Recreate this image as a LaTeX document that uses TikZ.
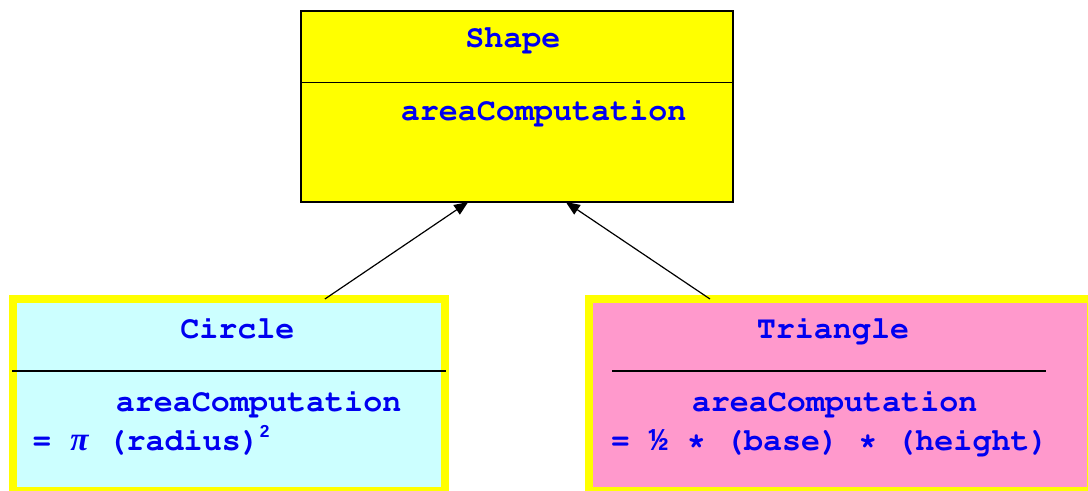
\documentclass[tikz,border=0pt]{standalone}
\usepackage{fontspec}
\newfontfamily\monofont{Liberation Mono}
\newfontfamily\serifgreek{Liberation Serif}
\newfontfamily\supfont{Liberation Sans}
\newcommand\courbold{\fontencoding{T1}\fontfamily{pcr}\fontseries{b}\fontshape{n}\selectfont}
\usetikzlibrary{arrows.meta,calc}
\definecolor{txtblue}{RGB}{0,0,240}
\definecolor{boxyellow}{RGB}{255,255,0}
\definecolor{circfill}{RGB}{204,255,255}
\definecolor{trifill}{RGB}{255,153,204}
\tikzset{
  classbox/.style={rectangle, outer sep=0pt, inner sep=0pt, anchor=north west},
  parentbox/.style={classbox, draw=black, line width=1.1pt, fill=boxyellow},
  childbox/.style={classbox, draw=boxyellow, line width=6pt},
  label/.style={anchor=base west, inner sep=0pt, text=txtblue,
    font=\fontsize{23.8pt}{28pt}\courbold},
  divider/.style={draw=black, line width=0.9pt},
  arr/.style={draw=black, line width=0.9pt, -{Triangle[length=10.5pt,width=8.5pt]}}
}
\begin{document}
\begin{tikzpicture}[x=0.75pt,y=-0.75pt]
\useasboundingbox (0,0) rectangle (1088,491);
\clip (0,0) rectangle (1088,491);

% base class
\node[parentbox, minimum width=324pt, minimum height=143.25pt] (shape) at (301,11) {};
\draw[divider] (301,82.5) -- (733,82.5);
\node[label] (shapename) at (465,48) {Shape};
\node[label] (shapeop) at (400.5,120.5) {areaComputation};

% subclasses
\node[childbox, fill=circfill, minimum width=324pt, minimum height=144pt] (circ) at (13,299) {};
\draw[divider] (12,371) -- (446,371);
\node[label] (circname) at (180,339) {Circle};
\node[label] (circop) at (115.5,411.5) {areaComputation};
\node[label] (circformula) at (32,450) {= {\serifgreek\bfseries\itshape\fontsize{25pt}{28pt}\selectfont π} (radius)\raisebox{9.75pt}{\supfont\bfseries\fontsize{13pt}{13pt}\selectfont 2}};

\node[childbox, fill=trifill, minimum width=376.5pt, minimum height=144pt] (tri) at (589,299) {};
\draw[divider] (612,371) -- (1046,371);
\node[label] (triname) at (756.5,339) {Triangle};
\node[label] (triop) at (691.5,411.5) {areaComputation};
\node[label] (triformula) at (610.5,450) {= {\monofont\bfseries ½} * (base) * (height)};

% inheritance arrows
\draw[arr] ($(circ.north west)!0.722!(circ.north east)$) -- ($(shape.south west)!0.387!(shape.south east)$);
\draw[arr] ($(tri.north west)!0.241!(tri.north east)$) -- ($(shape.south west)!0.613!(shape.south east)$);
\end{tikzpicture}
\end{document}
